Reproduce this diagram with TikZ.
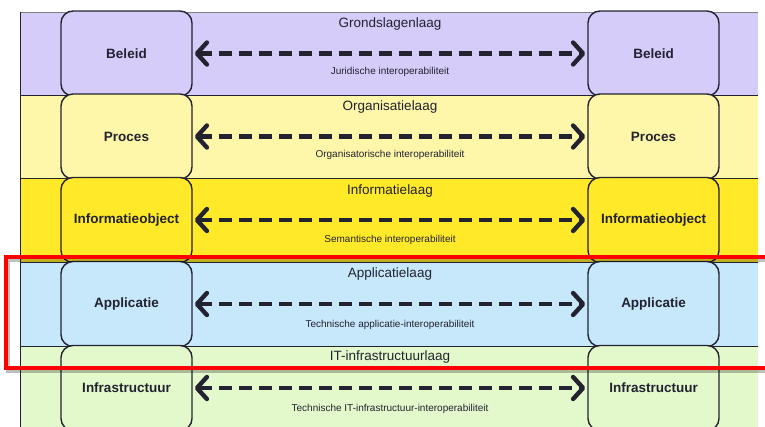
\documentclass[tikz,border=0pt]{standalone}
\usepackage{fontspec}
\setmainfont{Liberation Sans}
\usetikzlibrary{arrows.meta}

\definecolor{grondkleur}{RGB}{213,204,249}
\definecolor{organkleur}{RGB}{254,246,168}
\definecolor{infokleur}{RGB}{255,233,40}
\definecolor{applkleur}{RGB}{198,232,250}
\definecolor{infrakleur}{RGB}{227,249,203}
\definecolor{tekstkleur}{RGB}{34,34,48}

\begin{document}
\begin{tikzpicture}[x=1pt,y=-1pt,
  laagbox/.style={draw=tekstkleur, line width=1.4pt, rounded corners=12pt,
    minimum width=131pt, minimum height=85pt, inner sep=0pt,
    font=\fontsize{13.5}{15}\selectfont\bfseries, text=tekstkleur},
  koppeling/.style={line width=4.4pt, tekstkleur, dash pattern=on 13pt off 7pt,
    {Straight Barb[length=10pt,width=22pt,line width=4.4pt,round]}-{Straight Barb[length=10pt,width=22pt,line width=4.4pt,round]},
    shorten <=2pt, shorten >=2pt},
  laagtitel/.style={font=\fontsize{13.5}{15}\selectfont, text=tekstkleur},
  laagsub/.style={font=\fontsize{10}{12}\selectfont, text=tekstkleur}]
\useasboundingbox (0,0) rectangle (765,426);

% lagen
\fill[grondkleur] (20,12) rectangle (758,95);
\fill[organkleur] (20,95) rectangle (758,178);
\fill[infokleur] (20,178) rectangle (758,262);
\fill[applkleur] (20,262) rectangle (758,346);
\fill[infrakleur] (20,346) rectangle (758,440);
\draw[gray, line width=0.8pt] (20,12)--(758,12);
\draw[tekstkleur, line width=1pt] (20,95)--(758,95);
\draw[tekstkleur, line width=1pt] (20,178)--(758,178);
\draw[tekstkleur, line width=1pt] (20,262)--(758,262);
\draw[tekstkleur, line width=1pt] (20,346)--(758,346);
\draw[tekstkleur, line width=1pt] (20,12)--(20,440);

% Grondslagenlaag
\node[laagbox, fill=grondkleur] (beleidL) at (126.5,53.5) {Beleid};
\node[laagbox, fill=grondkleur] (beleidR) at (653.5,53.5) {Beleid};
\draw[koppeling] (beleidL.east) -- (beleidR.west);
\node[laagtitel] (grondslag) at (390,24) {Grondslagenlaag};
\node[laagsub] (juridisch) at (390,72) {Juridische interoperabiliteit};

% Organisatielaag
\node[laagbox, fill=organkleur] (procesL) at (126.5,136.5) {Proces};
\node[laagbox, fill=organkleur] (procesR) at (653.5,136.5) {Proces};
\draw[koppeling] (procesL.east) -- (procesR.west);
\node[laagtitel] (organisatie) at (390,107) {Organisatielaag};
\node[laagsub] (organisatorisch) at (390,155) {Organisatorische interoperabiliteit};

% Informatielaag
\node[laagbox, fill=infokleur] (infoL) at (126.5,220) {Informatieobject};
\node[laagbox, fill=infokleur] (infoR) at (653.5,220) {Informatieobject};
\draw[koppeling] (infoL.east) -- (infoR.west);
\node[laagtitel] (informatie) at (390,191) {Informatielaag};
\node[laagsub] (semantisch) at (390,240) {Semantische interoperabiliteit};

% Applicatielaag
\node[laagbox, fill=applkleur] (applL) at (126.5,304) {Applicatie};
\node[laagbox, fill=applkleur] (applR) at (653.5,304) {Applicatie};
\draw[koppeling] (applL.east) -- (applR.west);
\node[laagtitel] (applicatie) at (390,274) {Applicatielaag};
\node[laagsub] (technappl) at (390,325) {Technische applicatie-interoperabiliteit};

% IT-infrastructuurlaag
\node[laagbox, fill=infrakleur] (infraL) at (126.5,388) {Infrastructuur};
\node[laagbox, fill=infrakleur] (infraR) at (653.5,388) {Infrastructuur};
\draw[koppeling] (infraL.east) -- (infraR.west);
\node[laagtitel] (infra) at (390,357) {IT-infrastructuurlaag};
\node[laagsub] (technit) at (390,409) {Technische IT-infrastructuur-interoperabiliteit};

% markering
\draw[black, opacity=0.25, line width=4pt] (8,260) rectangle (780,371);
\draw[red, line width=3.6pt] (6,257) rectangle (780,368);
\end{tikzpicture}
\end{document}
